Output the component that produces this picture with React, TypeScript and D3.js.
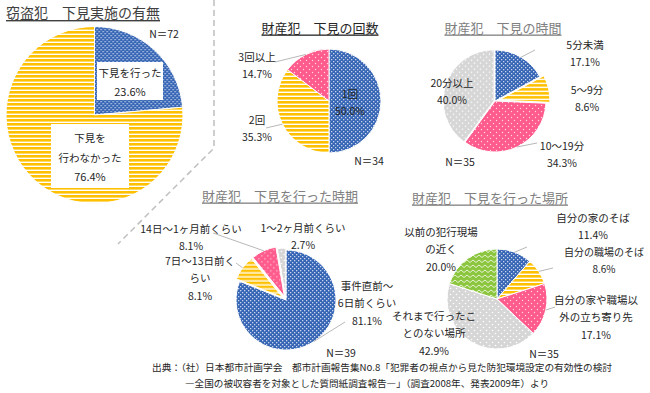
import React from 'react';
import * as d3 from 'd3';

const FONT = '"Noto Sans CJK JP", "Noto Sans", sans-serif';

// 窃盗犯 下見実施の有無
const theftCats = ['下見を行った', '下見を行わなかった'];
const theftVals = [23.6, 76.4];
// 財産犯 下見の回数
const countCats = ['1回', '2回', '3回以上'];
const countVals = [50.0, 35.3, 14.7];
// 財産犯 下見の時間
const timeCats = ['5分未満', '5～9分', '10～19分', '20分以上'];
const timeVals = [17.1, 8.6, 34.3, 40.0];
// 財産犯 下見を行った時期
const whenCats = ['事件直前～6日前くらい', '7日～13日前くらい', '14日～1ヶ月前くらい', '1～2ヶ月前くらい'];
const whenVals = [81.1, 8.1, 8.1, 2.7];
// 財産犯 下見を行った場所
const placeCats = ['自分の家のそば', '自分の職場のそば', '自分の家や職場以外の立ち寄り先', 'それまで行ったことのない場所', '以前の犯行現場の近く'];
const placeVals = [11.4, 8.6, 17.1, 42.9, 20.0];

const sampleSizes = ['N＝72', 'N＝34', 'N＝35', 'N＝39', 'N＝35'];

const sourceLines = [
  '出典：（社）日本都市計画学会　都市計画報告集No.8「犯罪者の視点から見た防犯環境設定の有効性の検討',
  '―全国の被収容者を対象とした質問紙調査報告―」（調査2008年、発表2009年）より',
];

type Label = { lines: string[]; x: number; y: number; leader?: [number, number]; size?: number };

type PieProps = {
  cx: number;
  cy: number;
  r: number;
  values: number[];
  fills: string[];
  explode?: number[];
  labels: Label[];
};

const fmt = (v: number) => v.toFixed(1) + '%';

function Pie({ cx, cy, r, values, fills, explode, labels }: PieProps) {
  const pie = d3.pie<number>().sort(null).value((d) => d);
  const arcs = pie(values);
  const arc = d3.arc<d3.PieArcDatum<number>>().innerRadius(0).outerRadius(r);
  const rim = d3.arc<d3.PieArcDatum<number>>().innerRadius(r).outerRadius(r);
  const offsetOf = (a: d3.PieArcDatum<number>, i: number) => {
    const e = explode ? explode[i] : 0;
    const mid = (a.startAngle + a.endAngle) / 2;
    return [e * Math.sin(mid), -e * Math.cos(mid)];
  };
  return (
    <g>
      <g transform={`translate(${cx},${cy})`}>
        {arcs.map((a, i) => {
          const [ox, oy] = offsetOf(a, i);
          return (
            <path
              key={i}
              d={arc(a) || ''}
              transform={`translate(${ox},${oy})`}
              fill={fills[i]}
              stroke="#fff"
              strokeWidth={1}
            />
          );
        })}
      </g>
      {labels.map((l, i) => {
        if (!l.leader || !arcs[i]) return null;
        const [px, py] = rim.centroid(arcs[i]);
        const [ox, oy] = offsetOf(arcs[i], i);
        return (
          <line
            key={'ld' + i}
            x1={l.leader[0]}
            y1={l.leader[1]}
            x2={cx + px + ox}
            y2={cy + py + oy}
            stroke="#a6a6a6"
            strokeWidth={0.8}
          />
        );
      })}
      {labels.map((l, i) => (
        <text key={'lb' + i} textAnchor="middle" fontSize={l.size || 10.5} fill="#262626" fontFamily={FONT}>
          {l.lines.map((s, j) => (
            <tspan key={j} x={l.x} y={l.y + j * 17.5} dominantBaseline="central">
              {s}
            </tspan>
          ))}
        </text>
      ))}
    </g>
  );
}

function Title({ x, y, text, color, size }: { x: number; y: number; text: string; color: string; size: number }) {
  return (
    <text
      x={x}
      y={y}
      textAnchor="middle"
      dominantBaseline="central"
      fontSize={size}
      fill={color}
      fontFamily={FONT}
      style={{ textDecoration: 'underline' }}
    >
      {text}
    </text>
  );
}

const BLUE = 'url(#pBlue)';
const ORANGE = 'url(#pOrange)';
const PINK = 'url(#pPink)';
const GREY = 'url(#pGrey)';
const GREEN = 'url(#pGreen)';

export default function App() {
  return (
    <div style={{ position: 'absolute', left: 0, top: 0 }}>
      <svg width={650} height={393} style={{ display: 'block', background: '#fff' }}>
        <defs>
          <pattern id="pBlue" width={4} height={4} patternUnits="userSpaceOnUse">
            <rect width={4} height={4} fill="#3565b4" />
            <rect x={0} y={0} width={1.3} height={1.3} fill="#c9d6ee" />
            <rect x={2} y={2} width={1.3} height={1.3} fill="#c9d6ee" />
          </pattern>
          <pattern id="pOrange" width={4} height={4} patternUnits="userSpaceOnUse">
            <rect width={4} height={4} fill="#fff" />
            <rect width={4} height={2.6} fill="#ffc000" />
          </pattern>
          <pattern id="pPink" width={6} height={6} patternUnits="userSpaceOnUse">
            <rect width={6} height={6} fill="#ff5b8c" />
            <circle cx={1.5} cy={1.5} r={0.7} fill="#ffd6e2" />
            <circle cx={4.5} cy={4.5} r={0.7} fill="#ffd6e2" />
          </pattern>
          <pattern id="pGrey" width={6} height={6} patternUnits="userSpaceOnUse">
            <rect width={6} height={6} fill="#d6d6d6" />
            <circle cx={1.5} cy={1.5} r={0.8} fill="#fff" />
            <circle cx={4.5} cy={4.5} r={0.8} fill="#fff" />
          </pattern>
          <pattern id="pGreen" width={6} height={5} patternUnits="userSpaceOnUse">
            <rect width={6} height={5} fill="#8cc63f" />
            <path d="M0,1 L3,3.5 L6,1" fill="none" stroke="#e6f3d2" strokeWidth={1} />
          </pattern>
        </defs>

        {/* dashed separator */}
        <path d="M214,0 L214,148 L118,244" fill="none" stroke="#bfbfbf" strokeWidth={1.5} strokeDasharray="6,4" />

        {/* 窃盗犯 下見実施の有無 */}
        <text x={6} y={12} dominantBaseline="central" fontSize={14} fill="#404040" fontFamily={FONT} style={{ textDecoration: 'underline' }}>
          窃盗犯　下見実施の有無
        </text>
        <Pie cx={94.5} cy={115} r={88.5} values={theftVals} fills={[BLUE, ORANGE]} labels={[]} />
        <rect x={97} y={62} width={66} height={38} fill="#fff" />
        <rect x={51} y={124} width={78} height={64} fill="#fff" />
        <text textAnchor="middle" fontSize={10.5} fill="#262626" fontFamily={FONT}>
          <tspan x={130} y={72} dominantBaseline="central">{theftCats[0]}</tspan>
          <tspan x={130} y={91} fontSize={11} dominantBaseline="central">{fmt(theftVals[0])}</tspan>
        </text>
        <text textAnchor="middle" fontSize={10.5} fill="#262626" fontFamily={FONT}>
          <tspan x={90} y={137} dominantBaseline="central">{theftCats[1].slice(0, 3)}</tspan>
          <tspan x={90} y={157} dominantBaseline="central">{theftCats[1].slice(3)}</tspan>
          <tspan x={90} y={176} fontSize={11} dominantBaseline="central">{fmt(theftVals[1])}</tspan>
        </text>
        <text x={164} y={33} textAnchor="middle" dominantBaseline="central" fontSize={10.5} fill="#262626" fontFamily={FONT}>
          {sampleSizes[0]}
        </text>

        {/* 財産犯 下見の回数 */}
        <Title x={320} y={27} text="財産犯　下見の回数" color="#262626" size={13} />
        <Pie
          cx={329}
          cy={101}
          r={52}
          values={countVals}
          fills={[BLUE, ORANGE, PINK]}
          labels={[
            { lines: [countCats[0], fmt(countVals[0])], x: 350, y: 93 },
            { lines: [countCats[1], fmt(countVals[1])], x: 257, y: 119, leader: [266, 128] },
            { lines: [countCats[2], fmt(countVals[2])], x: 257, y: 56, leader: [275, 62] },
          ]}
        />
        <text x={369} y={160} textAnchor="middle" dominantBaseline="central" fontSize={10.5} fill="#262626" fontFamily={FONT}>
          {sampleSizes[1]}
        </text>

        {/* 財産犯 下見の時間 */}
        <Title x={503} y={27} text="財産犯　下見の時間" color="#808080" size={13} />
        <Pie
          cx={495}
          cy={101}
          r={51}
          values={timeVals}
          fills={[BLUE, ORANGE, PINK, GREY]}
          explode={[0, 4, 0, 1]}
          labels={[
            { lines: [timeCats[0], fmt(timeVals[0])], x: 585, y: 44, leader: [535, 50] },
            { lines: [timeCats[1], fmt(timeVals[1])], x: 587, y: 89 },
            { lines: [timeCats[2], fmt(timeVals[2])], x: 562, y: 145, leader: [537, 143] },
            { lines: [timeCats[3], fmt(timeVals[3])], x: 452, y: 82 },
          ]}
        />
        <text x={460} y={161} textAnchor="middle" dominantBaseline="central" fontSize={10.5} fill="#262626" fontFamily={FONT}>
          {sampleSizes[2]}
        </text>

        {/* 財産犯 下見を行った時期 */}
        <Title x={280} y={195} text="財産犯　下見を行った時期" color="#808080" size={13} />
        <Pie
          cx={286}
          cy={300}
          r={50}
          values={whenVals}
          fills={[BLUE, ORANGE, PINK, GREY]}
          explode={[0, 4, 4, 2]}
          labels={[
            { lines: ['事件直前～', '6日前くらい', fmt(whenVals[0])], x: 367, y: 285, leader: [345, 322] },
            { lines: ['7日～13日前く', 'らい', fmt(whenVals[1])], x: 200, y: 260, leader: [236, 263] },
            { lines: [whenCats[2], fmt(whenVals[2])], x: 191, y: 228, leader: [213, 233] },
            { lines: [whenCats[3], fmt(whenVals[3])], x: 303, y: 227 },
          ]}
        />
        <text x={341} y={352} textAnchor="middle" dominantBaseline="central" fontSize={10.5} fill="#262626" fontFamily={FONT}>
          {sampleSizes[3]}
        </text>

        {/* 財産犯 下見を行った場所 */}
        <Title x={490} y={197} text="財産犯　下見を行った場所" color="#808080" size={13} />
        <Pie
          cx={497}
          cy={299}
          r={50}
          values={placeVals}
          fills={[BLUE, ORANGE, PINK, GREY, GREEN]}
          labels={[
            { lines: [placeCats[0], fmt(placeVals[0])], x: 593, y: 217, leader: [527, 247] },
            { lines: [placeCats[1], fmt(placeVals[1])], x: 604, y: 251, leader: [553, 268], size: 10 },
            { lines: ['自分の家や職場以', '外の立ち寄り先', fmt(placeVals[2])], x: 596, y: 299, leader: [555, 307] },
            { lines: ['それまで行ったこ', 'とのない場所', fmt(placeVals[3])], x: 434, y: 315 },
            { lines: ['以前の犯行現場', 'の近く', fmt(placeVals[4])], x: 441, y: 231 },
          ]}
        />
        <text x={544} y={353} textAnchor="middle" dominantBaseline="central" fontSize={10.5} fill="#262626" fontFamily={FONT}>
          {sampleSizes[4]}
        </text>

        {/* 出典 */}
        <text x={152} y={367} dominantBaseline="central" fontSize={9.5} fill="#262626" fontFamily={FONT} textLength={460} lengthAdjust="spacingAndGlyphs">
          {sourceLines[0]}
        </text>
        <text x={185} y={383} dominantBaseline="central" fontSize={9.5} fill="#262626" fontFamily={FONT} textLength={364} lengthAdjust="spacingAndGlyphs">
          {sourceLines[1]}
        </text>
      </svg>
    </div>
  );
}
